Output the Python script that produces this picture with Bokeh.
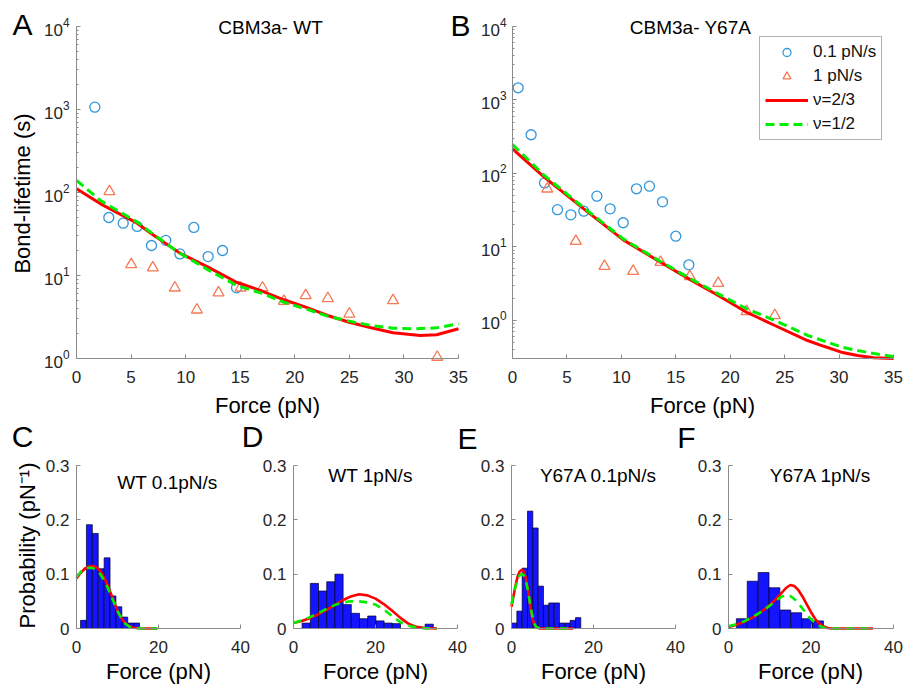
from math import pi, log10
from bokeh.plotting import figure
from bokeh.models import (Range1d, FixedTicker, Label, Legend, LegendItem, LinearAxis,
                          LogAxis, LogScale, LinearScale, Grid)
from bokeh.embed import file_html
from bokeh.resources import INLINE

FONT = "Liberation Sans"
BLUE_C = "#2f97dc"
ORANGE_T = "#f57a55"
RED = "#ff0000"
GREEN = "#00ee00"
BAR = "#1414ff"
AXC = "#8a8a8a"
TICKC = "#262626"

# ---------------- Panel A (CBM3a- WT) ----------------
a_circ_F = [1.68, 2.96, 4.28, 5.56, 6.87, 8.18, 9.47, 10.75, 12.06, 13.38, 14.66]
a_circ_t = [1066, 50, 42.7, 39, 23, 26.5, 18.2, 37.9, 16.9, 20, 7.1]
a_tri_F = [3.02, 5.01, 6.99, 9.01, 11.03, 13.01, 15.03, 17.04, 19.0, 21.0, 23.03, 25.0, 29.0, 33.05]
a_tri_t = [103, 13.6, 12.4, 7.1, 3.86, 6.2, 7.1, 7.1, 4.9, 5.74, 5.3, 3.45, 5.0, 1.04]
a_red_F = [0, 2.2, 5.56, 6.87, 9.47, 12.06, 14.66, 17.0, 19.0, 21.0, 23.0, 25.0, 27.0, 29.0, 31.5, 33.0, 35.0]
a_red_t = [111, 73, 42.7, 31.8, 18.6, 12.6, 8.3, 6.5, 5.1, 4.15, 3.3, 2.73, 2.35, 2.04, 1.89, 1.93, 2.28]
a_grn_F = [0, 2.2, 5.56, 6.87, 9.47, 12.06, 14.66, 17.0, 19.0, 21.0, 23.0, 25.0, 27.0, 29.0, 31.0, 33.0, 35.0]
a_grn_t = [140, 80, 44, 32.6, 18.5, 11.7, 7.6, 6.1, 4.76, 3.96, 3.24, 2.82, 2.5, 2.32, 2.28, 2.34, 2.62]

# ---------------- Panel B (CBM3a- Y67A) ----------------
b_circ_F = [0.52, 1.71, 2.94, 4.13, 5.36, 6.55, 7.75, 8.97, 10.17, 11.39, 12.58, 13.78, 15.0, 16.2]
b_circ_t = [1462, 335, 74, 32, 27.2, 30.5, 48.8, 32.8, 21.2, 61.5, 66.8, 40.9, 13.9, 5.67]
b_tri_F = [3.19, 5.82, 8.45, 11.08, 13.6, 16.29, 18.9, 21.5, 24.1]
b_tri_t = [61.5, 11.9, 5.43, 4.64, 6.15, 3.93, 3.18, 1.31, 1.16]
b_red_F = [0, 2.94, 6.55, 10.17, 13.6, 16.2, 18.9, 21.5, 24.1, 27.1, 28.6, 30.2, 31.7, 33.2, 35.0]
b_red_t = [216, 88, 32.8, 12.4, 6.15, 3.65, 2.16, 1.28, 0.845, 0.527, 0.44, 0.366, 0.33, 0.307, 0.30]
b_grn_F = [0, 2.94, 6.55, 10.17, 13.6, 16.2, 18.9, 21.5, 24.1, 27.1, 28.6, 30.2, 31.7, 33.2, 35.0]
b_grn_t = [247, 93, 33.9, 12.8, 6.3, 3.77, 2.28, 1.43, 0.99, 0.62, 0.52, 0.43, 0.385, 0.35, 0.32]

# ---------------- Panel C (WT 0.1pN/s) ----------------
c_left = [0.98, 2.42, 3.86, 5.30, 6.74, 8.18, 9.62, 11.06, 12.50, 13.94]
c_right = [2.42, 3.86, 5.30, 6.74, 8.18, 9.62, 11.06, 12.50, 13.94, 15.38]
c_prob = [0.015, 0.191, 0.175, 0.11, 0.13, 0.06, 0.04, 0.021, 0.01, 0.01]
c_red_F = [0, 1, 2, 3, 4, 5, 6, 7, 8, 9, 10, 11, 12, 13, 14, 16, 18, 19.7]
c_red_p = [0.092, 0.102, 0.110, 0.114, 0.115, 0.112, 0.104, 0.090, 0.072, 0.052, 0.033, 0.018, 0.009, 0.004, 0.0015, 0, 0, 0]
c_grn_F = [0, 1, 2, 3, 4, 5, 6, 7, 8, 9, 10, 11, 12, 13, 14, 16, 18, 19.7]
c_grn_p = [0.095, 0.104, 0.110, 0.112, 0.111, 0.107, 0.098, 0.085, 0.068, 0.050, 0.032, 0.018, 0.008, 0.003, 0.001, 0, 0, 0]

# ---------------- Panel D (WT 1pN/s) ----------------
d_left = [2.1, 4.1, 6.1, 8.1, 10.1, 12.1, 14.1, 16.1, 18.1, 20.1, 22.1, 24.1, 32.1]
d_right = [4.1, 6.1, 8.1, 10.1, 12.1, 14.1, 16.1, 18.1, 20.1, 22.1, 24.1, 26.1, 34.1]
d_prob = [0.01, 0.083, 0.069, 0.086, 0.1, 0.044, 0.028, 0.018, 0.023, 0.014, 0.01, 0.009, 0.008]
d_red_F = [0, 2, 4, 6, 8, 10, 12, 14, 16, 18, 20, 22, 24, 26, 28, 30, 32, 35]
d_red_p = [0.01, 0.014, 0.019, 0.026, 0.034, 0.043, 0.052, 0.059, 0.063, 0.061, 0.055, 0.045, 0.033, 0.02, 0.009, 0.003, 0.0008, 0]
d_grn_F = [0, 2, 4, 6, 8, 10, 12, 14, 16, 18, 20, 22, 24, 26, 28, 30, 32, 35]
d_grn_p = [0.01, 0.015, 0.021, 0.028, 0.036, 0.043, 0.048, 0.05, 0.05, 0.048, 0.044, 0.035, 0.023, 0.012, 0.005, 0.002, 0.0005, 0]

# ---------------- Panel E (Y67A 0.1pN/s) ----------------
e_left = [0, 1.3, 2.6, 3.9, 5.2, 6.5, 7.8, 9.1, 10.4, 11.7, 13.0, 14.3, 15.6]
e_right = [1.3, 2.6, 3.9, 5.2, 6.5, 7.8, 9.1, 10.4, 11.7, 13.0, 14.3, 15.6, 16.9]
e_prob = [0.01, 0.032, 0.111, 0.216, 0.185, 0.078, 0.043, 0.047, 0.047, 0.01, 0.01, 0.015, 0.02]
e_red_F = [0, 0.5, 1, 1.5, 2, 2.5, 3, 3.5, 4, 4.5, 5, 5.5, 6, 7, 15]
e_red_p = [0.04, 0.06, 0.08, 0.096, 0.105, 0.108, 0.105, 0.093, 0.072, 0.045, 0.022, 0.008, 0.002, 0, 0]
e_grn_F = [0, 0.5, 1, 1.5, 2, 2.5, 3, 3.5, 4, 4.5, 5, 5.5, 6, 7, 15]
e_grn_p = [0.045, 0.062, 0.078, 0.09, 0.098, 0.1, 0.098, 0.088, 0.07, 0.047, 0.026, 0.01, 0.003, 0, 0]

# ---------------- Panel F (Y67A 1pN/s) ----------------
f_left = [1.9, 4.54, 7.18, 9.82, 12.46, 15.1, 17.74, 20.38]
f_right = [4.54, 7.18, 9.82, 12.46, 15.1, 17.74, 20.38, 23.02]
f_prob = [0.018, 0.087, 0.103, 0.075, 0.034, 0.029, 0.018, 0.014]
f_red_F = [0, 2, 4, 6, 8, 10, 12, 14, 15, 16, 17, 18, 19, 20, 21, 22, 23, 24, 25, 35]
f_red_p = [0.003, 0.007, 0.013, 0.021, 0.031, 0.043, 0.058, 0.075, 0.08, 0.078, 0.07, 0.058, 0.044, 0.03, 0.018, 0.009, 0.004, 0.001, 0, 0]
f_grn_F = [0, 2, 4, 6, 8, 10, 12, 13, 14, 15, 16, 17, 18, 19, 20, 21, 22, 23, 24, 25, 35]
f_grn_p = [0.004, 0.008, 0.014, 0.022, 0.031, 0.042, 0.054, 0.059, 0.062, 0.06, 0.054, 0.046, 0.036, 0.026, 0.017, 0.01, 0.005, 0.002, 0.0005, 0, 0]

top_xticks = [0, 5, 10, 15, 20, 25, 30, 35]
log_ticks = [1, 10, 100, 1000, 10000]
bot_xticks = [0, 20, 40]
bot_yticks = [0, 0.1, 0.2, 0.3]

W, H = 904, 688

p = figure(width=W, height=H, x_range=Range1d(0, W), y_range=Range1d(0, H),
           x_axis_location=None, y_axis_location=None, title=None,
           min_border_left=0, min_border_right=0, min_border_top=0, min_border_bottom=0,
           output_backend="svg", toolbar_location=None, tools="")
p.outline_line_color = None
p.background_fill_color = "white"
p.border_fill_color = "white"
p.center = [r for r in p.center if not isinstance(r, Grid)]
p.renderers = [r for r in p.renderers if not isinstance(r, Grid)]

xr_d, yr_d, ys_d = {}, {}, {}


def setup_panel(name, fl, fr, ft, fb, xr, yr, ylog):
    """Register ranges so that data range xr x yr lands on the frame box (fl..fr, ft..fb) in page px."""
    kx = (fr - fl) / (xr[1] - xr[0])
    xr_d[name] = Range1d(xr[0] - fl / kx, xr[1] + (W - fr) / kx)
    if ylog:
        l0, l1 = log10(yr[0]), log10(yr[1])
        ky = (fb - ft) / (l1 - l0)
        yr_d[name] = Range1d(10 ** (l0 - (H - fb) / ky), 10 ** (l1 + ft / ky))
        ys_d[name] = LogScale()
    else:
        ky = (fb - ft) / (yr[1] - yr[0])
        yr_d[name] = Range1d(yr[0] - (H - fb) / ky, yr[1] + ft / ky)
        ys_d[name] = LinearScale()


def style_axis(ax, standoff):
    ax.axis_line_color = AXC
    ax.major_tick_line_color = AXC
    ax.minor_tick_line_color = AXC
    ax.major_tick_in = 4
    ax.major_tick_out = 0
    ax.minor_tick_in = 2
    ax.minor_tick_out = 0
    ax.major_label_text_font = FONT
    ax.major_label_text_font_size = "17px"
    ax.major_label_text_color = TICKC
    ax.major_label_standoff = standoff


def add_axes(name, xr, yr, xticks, yticks, ylog, xstand=12, ystand=7, yminor=None):
    ax = LinearAxis(x_range_name=name, y_range_name=name, fixed_location=yr[0], bounds=xr,
                    ticker=FixedTicker(ticks=xticks))
    style_axis(ax, xstand)
    p.add_layout(ax, "below")
    if ylog:
        ay = LogAxis(x_range_name=name, y_range_name=name, fixed_location=xr[0], bounds=yr,
                     ticker=FixedTicker(ticks=yticks, minor_ticks=yminor or []))
    else:
        ay = LinearAxis(x_range_name=name, y_range_name=name, fixed_location=xr[0], bounds=yr,
                        ticker=FixedTicker(ticks=yticks))
        ay.major_label_overrides = {0: "0", 0.1: "0.1", 0.2: "0.2", 0.3: "0.3"}
    style_axis(ay, ystand)
    p.add_layout(ay, "left")


def txt(x, y, text, size, angle=0.0):
    p.add_layout(Label(x=x, y=H - y, x_units="screen", y_units="screen", text=text,
                       text_font=FONT, text_font_size=size, text_align="center",
                       text_baseline="middle", angle=angle, text_color="#000000"))


minorA = [m * 10 ** k for k in range(0, 4) for m in range(2, 10)]
minorB = [m * 10 ** k for k in range(-1, 4) for m in range(3, 10) if m * 10 ** k < 1e4] + \
         [m * 10 ** k for k in range(0, 4) for m in (2,)]

# panels geometry (page px): left, right, top, bottom
setup_panel("A", 76, 458, 26, 358, (0, 35), (1, 1e4), True)
setup_panel("B", 512, 893, 26, 358, (0, 35), (0.3, 1e4), True)
setup_panel("C", 76, 240, 465, 628, (0, 40), (0, 0.3), False)
setup_panel("D", 293, 457, 465, 628, (0, 40), (0, 0.3), False)
setup_panel("E", 511, 675, 465, 628, (0, 40), (0, 0.3), False)
setup_panel("F", 728, 893, 465, 628, (0, 40), (0, 0.3), False)
p.extra_x_ranges = xr_d
p.extra_y_ranges = yr_d
p.extra_y_scales = ys_d

add_axes("A", (0, 35), (1, 1e4), top_xticks, log_ticks, True, xstand=12, ystand=7, yminor=minorA)
add_axes("B", (0, 35), (0.3, 1e4), top_xticks, log_ticks, True, xstand=12, ystand=6, yminor=minorB)
for nm in "CDEF":
    add_axes(nm, (0, 40), (0, 0.3), bot_xticks, bot_yticks, False, xstand=12, ystand=7)

# ---- panel A marks
kA = dict(x_range_name="A", y_range_name="A")
p.scatter(a_circ_F, a_circ_t, marker="circle", size=10, fill_color=None, line_color=BLUE_C, line_width=1.3, **kA)
p.scatter(a_tri_F, a_tri_t, marker="triangle", size=11, fill_color=None, line_color=ORANGE_T, line_width=1.3, **kA)
p.line(a_red_F, a_red_t, line_color=RED, line_width=3, **kA)
p.line(a_grn_F, a_grn_t, line_color=GREEN, line_width=3, line_dash="9 5", **kA)

# ---- panel B marks
kB = dict(x_range_name="B", y_range_name="B")
rb1 = p.scatter(b_circ_F, b_circ_t, marker="circle", size=10, fill_color=None, line_color=BLUE_C, line_width=1.3, **kB)
rb2 = p.scatter(b_tri_F, b_tri_t, marker="triangle", size=11, fill_color=None, line_color=ORANGE_T, line_width=1.3, **kB)
rb3 = p.line(b_red_F, b_red_t, line_color=RED, line_width=3, **kB)
rb4 = p.line(b_grn_F, b_grn_t, line_color=GREEN, line_width=3, line_dash="9 5", **kB)

# ---- histogram panels
for nm, lf, rt, pr, rF, rp, gF, gp in [
        ("C", c_left, c_right, c_prob, c_red_F, c_red_p, c_grn_F, c_grn_p),
        ("D", d_left, d_right, d_prob, d_red_F, d_red_p, d_grn_F, d_grn_p),
        ("E", e_left, e_right, e_prob, e_red_F, e_red_p, e_grn_F, e_grn_p),
        ("F", f_left, f_right, f_prob, f_red_F, f_red_p, f_grn_F, f_grn_p)]:
    kk = dict(x_range_name=nm, y_range_name=nm)
    p.quad(left=lf, right=rt, top=pr, bottom=0, fill_color=BAR, line_color="#000022", line_width=0.7, **kk)
    p.line(rF, rp, line_color=RED, line_width=2.6, **kk)
    p.line(gF, gp, line_color=GREEN, line_width=2.6, line_dash="8 6", **kk)

# ---- texts
txt(22, 24, "A", "30px")
txt(460, 25, "B", "30px")
txt(270, 27, "CBM3a- WT", "19px")
txt(690, 27, "CBM3a- Y67A", "19px")
txt(22, 193, "Bond-lifetime (s)", "22px", angle=pi / 2)
txt(267, 405, "Force (pN)", "22px")
txt(702, 405, "Force (pN)", "22px")

txt(22, 436, "C", "30px")
txt(252, 436, "D", "30px")
txt(467, 438, "E", "30px")
txt(686, 437, "F", "30px")
txt(167, 482, "WT 0.1pN/s", "19px")
txt(370, 475, "WT 1pN/s", "19px")
txt(598, 475, "Y67A 0.1pN/s", "19px")
txt(820, 475, "Y67A 1pN/s", "19px")
txt(27, 545, "Probability (pN\u207b\u00b9)", "22px", angle=pi / 2)
for cx in (158, 375, 593, 810):
    txt(cx, 671, "Force (pN)", "22px")

# ---- legend
leg = Legend(items=[LegendItem(label="0.1 pN/s", renderers=[rb1]),
                    LegendItem(label="1 pN/s", renderers=[rb2]),
                    LegendItem(label="\u03bd=2/3", renderers=[rb3]),
                    LegendItem(label="\u03bd=1/2", renderers=[rb4])],
             location=(759, H - 140))
leg.label_text_font = FONT
leg.label_text_font_size = "17px"
leg.label_text_color = "#111111"
leg.border_line_color = "#666666"
leg.border_line_width = 1
leg.background_fill_color = "white"
leg.background_fill_alpha = 1
leg.glyph_width = 43
leg.glyph_height = 20
leg.label_height = 20
leg.label_standoff = 5
leg.spacing = 4
leg.padding = 5
leg.margin = 0
p.add_layout(leg)

open("out.html", "w").write(file_html(p, INLINE))
